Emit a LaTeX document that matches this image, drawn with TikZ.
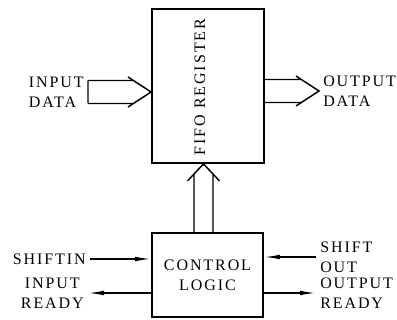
\documentclass[tikz,border=0pt]{standalone}
\usepackage{fontspec}
\setmainfont{Liberation Serif}[LetterSpace=12]
\usetikzlibrary{arrows.meta, calc}

\begin{document}
\begin{tikzpicture}[
  x=0.75pt, y=-0.75pt,
  font=\fontsize{12}{15}\selectfont,
  block/.style={
    draw,
    rectangle,
    line width=1.4pt,
    inner sep=0pt
  },
  bus/.style={line width=1.1pt, line join=miter},
  sig/.style={line width=1.1pt, -{Latex[length=12pt, width=3.5pt]}},
  lbl/.style={inner sep=3pt, align=left}
]
\useasboundingbox (0,0) rectangle (397,320);

% --- Blocks ---
\node[block, minimum width=84pt, minimum height=115.5pt] (fifo) at (208,86) {};
\node[rotate=90, inner sep=0pt] (fifotxt) at (200,87) {FIFO REGISTER};
\node[block, minimum width=83.25pt, minimum height=63pt, align=center] (ctrl) at (207.5,275) {CONTROL\\LOGIC};

% --- Labels ---
\node[lbl, anchor=east] (indata)   at (88,92)  {INPUT\\DATA};
\node[lbl, anchor=west] (outdata)  at (319,91) {OUTPUT\\DATA};
\node[lbl, anchor=east] (shiftin)  at (90,259) {SHIFTIN};
\node[lbl, anchor=east, align=center] (inready) at (88,293) {INPUT\\READY};
\node[lbl, anchor=west] (shiftout) at (316,257) {SHIFT\\OUT};
\node[lbl, anchor=west] (outready) at (316,293) {OUTPUT\\READY};

% --- Bus arrow sizes (px) ---
\pgfmathsetmacro{\hw}{11.5}  % shaft half-width
\pgfmathsetmacro{\bw}{15}    % barb half-width
\pgfmathsetmacro{\bl}{23}    % barb length

% --- INPUT DATA: closed tail, open tip on FIFO ---
\coordinate (inTip) at ($(fifo.west)+(0,6)$);
\coordinate (inTail) at (indata.east);
\draw[bus]
  ($(inTail)+(0,-\hw)$) -- ($(inTip)+(-18,-\hw)$)
  ($(inTail)+(0,\hw)$)  -- ($(inTip)+(-18,\hw)$)
  ($(inTail)+(0,-\hw)$) -- ($(inTail)+(0,\hw)$)
  ($(inTip)+(-\bl,-\bw)$) -- (inTip) -- ($(inTip)+(-\bl,\bw)$);

% --- OUTPUT DATA: from FIFO right side ---
\coordinate (outTip) at (outdata.west);
\draw[bus]
  ($(fifo.east |- outTip)+(0,-\hw)$) -- ($(outTip)+(-18,-\hw)$)
  ($(fifo.east |- outTip)+(0,\hw)$)  -- ($(outTip)+(-18,\hw)$)
  ($(outTip)+(-\bl,-\bw)$) -- (outTip) -- ($(outTip)+(-\bl,\bw)$);

% --- Control logic up into FIFO ---
\coordinate (upTip) at ($(fifo.south)+(-4.5,0)$);
\draw[bus]
  ($(upTip |- ctrl.north)+(-9.5,0)$) -- ($(upTip)+(-9.5,10)$)
  ($(upTip |- ctrl.north)+(9.5,0)$)  -- ($(upTip)+(9.5,10)$)
  ($(upTip)+(-16,17)$) -- (upTip) -- ($(upTip)+(16,17)$);

% --- Handshake lines ---
\draw[sig] (shiftin.east) -- (ctrl.west |- shiftin.east);
\draw[sig] (ctrl.west |- inready.east) -- (inready.east);
\draw[sig] (shiftout.west) -- (ctrl.east |- shiftout.west);
\draw[sig] (ctrl.east |- outready.west) -- (outready.west);

\end{tikzpicture}
\end{document}
